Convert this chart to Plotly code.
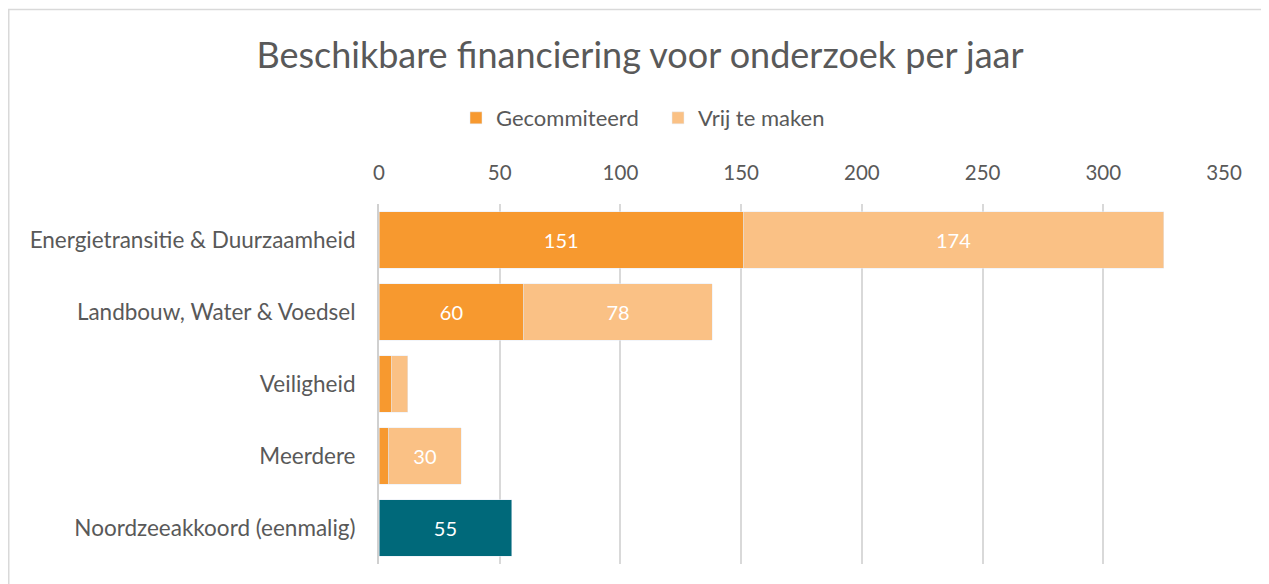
import plotly.graph_objects as go

categories = ["Energietransitie & Duurzaamheid", "Landbouw, Water & Voedsel", "Veiligheid", "Meerdere", "Noordzeeakkoord (eenmalig)"]
gecommiteerd = [151, 60, 5, 4, None]
vrij_te_maken = [174, 78, 7, 30, None]
noordzee = [None, None, None, None, 55]
label_min = 20

def labels(vals):
    return [str(v) if (v is not None and v >= label_min) else "" for v in vals]

FONT = "Lato"
GRAY = "#595959"
# page has 8px body margin; figure coordinates are page coordinates minus 8
W, H = 1261, 576
L, T = 371, 196
R = W - 1216
B = H - 556
pw, ph = W - L - R, H - T - B

lbl_font = dict(color="white", size=20, family=FONT)
fig = go.Figure()
fig.add_trace(go.Bar(y=categories, x=gecommiteerd, orientation="h", name="Gecommiteerd",
                     marker=dict(color="#F7992F"), text=labels(gecommiteerd),
                     textposition="inside", insidetextanchor="middle", textfont=lbl_font))
fig.add_trace(go.Bar(y=categories, x=vrij_te_maken, orientation="h", name="Vrij te maken",
                     marker=dict(color="#FAC185"), text=labels(vrij_te_maken),
                     textposition="inside", insidetextanchor="middle", textfont=lbl_font))
fig.add_trace(go.Bar(y=categories, x=noordzee, orientation="h", name="Noordzeeakkoord",
                     marker=dict(color="#00697A"), text=labels(noordzee), showlegend=False,
                     textposition="inside", insidetextanchor="middle", textfont=lbl_font))

fig.update_layout(
    width=W, height=H, barmode="stack", bargap=0.21,
    margin=dict(l=L, r=R, t=T, b=B, autoexpand=False),
    paper_bgcolor="white", plot_bgcolor="white",
    font=dict(family=FONT, color=GRAY, size=20),
    title=dict(text="Beschikbare financiering voor onderzoek per jaar", x=632 / W, xanchor="center",
               y=1 - 47 / H, yanchor="middle", font=dict(size=36, color=GRAY, family=FONT)),
    legend=dict(orientation="h", x=(650 - L) / pw, xanchor="center", y=(H - B - 110) / ph,
                yanchor="middle", font=dict(size=22, color=GRAY, family=FONT), traceorder="normal",
                entrywidth=157, entrywidthmode="pixels"),
    xaxis=dict(side="top", range=[0, 350], dtick=50, showgrid=True, gridcolor="#d9d9d9", gridwidth=1.5,
               zeroline=False, showline=False, ticks="", tickfont=dict(size=20.5, color=GRAY), ticklabelstandoff=19),
    yaxis=dict(autorange="reversed", showline=True, linecolor="#d0d0d0", linewidth=2, ticks="",
               tickfont=dict(size=22.5, color=GRAY), ticklabelstandoff=17),
    shapes=[dict(type="rect", xref="paper", yref="paper",
                 x0=(0.75 - L) / pw, x1=2, y0=-1, y1=(H - B - 1.5) / ph,
                 line=dict(color="#d9d9d9", width=1.5), fillcolor="rgba(0,0,0,0)", layer="below")],
)

fig.write_html("out.html")
